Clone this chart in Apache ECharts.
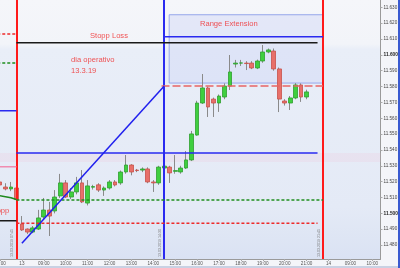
<!DOCTYPE html>
<html><head><meta charset="utf-8">
<script src="https://cdn.jsdelivr.net/npm/echarts@6/dist/echarts.min.js"></script>
<style>html,body{margin:0;padding:0;background:#f4f5f9;overflow:hidden}#c{width:400px;height:268px}</style>
</head><body><div id="c"></div>
<script>
// 15-minute slots; 0 = 13.3.19 08:00
const slots = [-4,-3,-2,-1,0,1,2,3,4,5,6,7,8,9,10,11,12,13,14,15,16,17,18,19,20,21,22,23,24,25,26,27,28,29,30,31,32,33,34,35,36,37,38,39,40,41,42,43,44,45,46,47,48,49,50,51,52];
const opens = [11519.8,11516.6,11515.4,11516.0,11493.3,11490.1,11488.2,11490.1,11497.7,11502.1,11501.5,11511.0,11519.2,11510.3,11513.5,11519.2,11506.5,11516.5,11518.0,11514.7,11516.0,11519.8,11519.2,11526.1,11530.5,11527.3,11527.3,11528.0,11519.8,11519.2,11528.6,11529.2,11526.5,11526.1,11528.6,11533.7,11549.4,11569.6,11579.1,11572.1,11569.6,11573.4,11580.3,11594.2,11594.8,11594.8,11594.8,11591.7,11596.1,11601.8,11602.4,11591.1,11570.9,11569.6,11572.8,11581.0,11573.4];
const closes = [11517.9,11515.4,11516.6,11508.7,11489.5,11488.2,11490.8,11497.1,11502.1,11498.3,11510.3,11519.2,11510.3,11513.5,11519.2,11507.2,11517.3,11516.9,11514.7,11516.0,11519.8,11517.9,11526.1,11530.5,11526.1,11527.0,11528.0,11519.8,11519.2,11529.2,11529.8,11525.5,11527.0,11528.6,11533.7,11550.1,11569.6,11579.1,11567.1,11569.6,11574.0,11580.3,11589.2,11594.8,11594.9,11594.5,11591.7,11596.1,11601.8,11603.1,11591.1,11572.1,11569.6,11572.8,11581.0,11573.4,11576.6];
const lows = [11516,11514.5,11514,11508,11488.9,11486.9,11487.5,11489.5,11496,11485.7,11500,11509.7,11509.7,11509,11512,11506.5,11505,11515,11513.5,11511,11515,11517,11518,11525,11524,11526,11526,11519,11513.5,11518,11528,11519.2,11525,11525,11528,11533,11549,11569,11560.8,11560.8,11564,11572,11577.8,11592,11593,11590.4,11591,11591,11595,11601,11590,11563.9,11568,11565.2,11572,11570.3,11572];
const highs = [11522,11519,11519.8,11517,11498.3,11490.5,11492.0,11502.2,11509.7,11507.2,11514.7,11524.9,11521.0,11516,11523,11527.3,11521,11518,11519,11517,11521,11521,11527,11536.8,11531,11528,11529,11529,11521,11530,11531,11530,11536.8,11530,11539.3,11552.0,11571,11587.9,11580,11573,11575,11582,11599.9,11596.8,11596.8,11596,11596,11597,11606.2,11604,11604,11592,11572,11574,11582.2,11582,11578];

// axis ticks
const yTickVals = [11480,11490,11500,11510,11520,11530,11540,11550,11560,11570,11580,11590,11600,11610,11620,11630];
const xTickVals = [-4,0,4,8,12,16,20,24,28,32,36,40,44,48,52,56,60,64];
const xTickLabels = ['21:00','13','09:00','10:00','11:00','12:00','13:00','14:00','15:00','16:00','17:00','18:00','19:00','20:00','21:00','14','09:00','10:00'];

// drawn levels (slot, price)
const dayBounds = [-1, 55];
const sessionStart = 26;
const stopLossLine = [[-1,11607.7],[54,11607.7]];
const rangeTopLine = [[26,11611.4],[55,11611.4]];
const rangeMidLine = [[25.5,11580.3],[55,11580.3]];
const breakoutLine = [[-1,11538.1],[54,11538.1]];
const greenLevel = [[-1,11508.4],[55,11508.4]];
const redLevel = [[-1,11493.7],[54,11493.7]];
const trendLine = [[0,11481.1],[26,11580.3]];
const rangeBox = [[26.9,11625.3],[55,11582.2]];
const pinkBand = [11532.4, 11538.1];
const prevRed = [[-4.5,11613.1],[-1,11613.1]];
const prevGreen = [[-4.5,11594.9],[-1,11594.9]];
const prevBlue = [[-4.5,11564.8],[-1,11564.8]];
const prevPink = [[-4.5,11529.4],[-1,11529.4]];
const prevBlack = [[-4.5,11495.4],[-1,11495.4]];
const prevCurve = [[-4.5,11511.3],[-3,11510.5],[-2,11509.8],[-1,11508.7]];
const lastPrice = 11576.6;
const lastPriceText = '11.576.62';
const timerText = '22s';

// annotations
const notes = [
  {value:[15.9,11612.2], text:'Stopp Loss', pos:'inside'},
  {value:[37.8,11619.3], text:'Range Extension', pos:'inside'},
  {value:[8.97,11596.8], text:'dia operativo', pos:'right'},
  {value:[8.97,11590.1], text:'13.3.19', pos:'right'},
  {value:[-2.3,11501.5], text:'Stopp', pos:'left'}
];
const vLabels = ['13.03.2019 07:45','13.03.2019 14:30','13.03.2019 21:45'];

const ohlc = slots.map((s,i)=>[s, opens[i], closes[i], lows[i], highs[i]]);
const bodies = slots.map((s,i)=>[s, opens[i], closes[i], Math.min(opens[i],closes[i]), Math.max(opens[i],closes[i])]);

const chart = echarts.init(document.getElementById('c'), null, {renderer:'canvas'});
const F = 'Liberation Sans, Arial, sans-serif';
function seg(data, color, width, type, z){
  return {type:'line', data, symbol:'none', silent:true, z:z||5, animation:false,
    lineStyle:{color, width, type: type||'solid'}};
}
chart.setOption({
  animation:false,
  backgroundColor:'#f4f5f9',
  grid:{left:0, right:19.5, top:0, bottom:9, show:true, borderWidth:0, containLabel:false, outerBoundsMode:'none',
    backgroundColor:{type:'linear',x:0,y:0,x2:0,y2:1,colorStops:[
      {offset:0,color:'#f5f6fa'},{offset:0.17,color:'#f2f4f9'},{offset:0.19,color:'#e9eef8'},
      {offset:0.8,color:'#e4eaf6'},{offset:1,color:'#dae2f3'}]}},
  xAxis:{type:'value', min:-4, max:65.5,
    axisLine:{show:true, onZero:false, lineStyle:{color:'#9a9a9a', width:1}},
    splitLine:{show:false},
    axisTick:{show:true, customValues:xTickVals, length:2, lineStyle:{color:'#aaa'}},
    axisLabel:{customValues:xTickVals, fontSize:4.6, color:'#555', margin:2, fontFamily:F,
      formatter:v=>{const k=xTickVals.indexOf(v); return k>=0?xTickLabels[k]:'';}}},
  yAxis:{type:'value', position:'right', min:11471.2, max:11634.6,
    splitLine:{show:false},
    axisLine:{show:true, onZero:false, lineStyle:{color:'#9a9a9a', width:1}},
    axisTick:{show:true, customValues:yTickVals, length:2, lineStyle:{color:'#aaa'}},
    axisLabel:{customValues:yTickVals, fontSize:4.6, color:'#444', margin:3, fontFamily:F,
      formatter:v=>{const t=(v/1000).toFixed(3); return (Math.round(v)%100===0)?'{b|'+t+'}':t;},
      rich:{b:{fontWeight:'bold', fontSize:4.8, color:'#222', fontFamily:F}}}},
  series:[
    {type:'line', data:[], z:1, silent:true,
      markArea:{silent:true, data:[
        [{yAxis:pinkBand[0], itemStyle:{color:'rgba(240,200,218,0.25)'}},{yAxis:pinkBand[1]}],
        [{coord:rangeBox[0], itemStyle:{color:'rgba(208,216,246,0.45)', borderColor:'#97a6ea', borderWidth:1}},{coord:rangeBox[1]}]
      ]}},
    {type:'candlestick', data:ohlc, encode:{x:0,y:[1,2,3,4]}, barWidth:1, z:3, silent:true,
      itemStyle:{color:'#8a8a8a', color0:'#8a8a8a', borderColor:'#8a8a8a', borderColor0:'#8a8a8a', borderWidth:1},
      markLine:{symbol:'none', silent:true, animation:false,
        data:[
          {xAxis:dayBounds[0], lineStyle:{color:'#ff1a1a', width:2, type:'solid'}, label:{show:true, formatter:vLabels[0], position:'insideStartTop', fontSize:3.6, color:'#777', distance:2}},
          {xAxis:sessionStart, lineStyle:{color:'#2a2af0', width:2, type:'solid'}, label:{show:true, formatter:vLabels[1], position:'insideStartTop', fontSize:3.6, color:'#777', distance:2}},
          {xAxis:dayBounds[1], lineStyle:{color:'#ff1a1a', width:2, type:'solid'}, label:{show:true, formatter:vLabels[2], position:'insideStartTop', fontSize:3.6, color:'#777', distance:2}},
          {yAxis:lastPrice, lineStyle:{width:0, opacity:0}, label:{show:true, position:'end', distance:2, formatter:lastPriceText, backgroundColor:'#efc81c', color:'#333', fontSize:4.4, padding:[1,1,0,1], fontFamily:F}},
          {yAxis:lastPrice, lineStyle:{width:0, opacity:0}, label:{show:true, position:'end', distance:2, offset:[0,5], formatter:timerText, backgroundColor:'#55cc55', color:'#222', fontSize:4.2, padding:[0.5,1,0,1], fontFamily:F}}
        ]}},
    {type:'candlestick', data:bodies, encode:{x:0,y:[1,2,3,4]}, barWidth:4.2, z:4, silent:true,
      itemStyle:{color:'#3fcf3f', color0:'#e8706a', borderColor:'#2f9f2f', borderColor0:'#c8504a', borderWidth:0.8}},
    seg(stopLossLine,'#1a1a1a',1.5),
    seg(rangeTopLine,'#2a2af0',1.5),
    seg(rangeMidLine,'#e86464',1.5,[8,3]),
    seg(breakoutLine,'#2a2af0',1.5),
    seg(greenLevel,'#1f8f1f',1.5,[3,2]),
    seg(redLevel,'#ee2a2a',1.5,[3,2]),
    seg(trendLine,'#2020ee',1.5),
    seg(prevRed,'#ee2a2a',1.5,[3,2]),
    seg(prevGreen,'#1f8f1f',1.5,[3,2]),
    seg(prevBlue,'#2a2af0',1.5),
    seg(prevPink,'#f08cb0',1.5),
    seg(prevBlack,'#1a1a1a',1.5),
    seg(prevCurve,'#1f8a1f',1.5),
    {type:'scatter', symbolSize:0, z:6, silent:true,
      data:notes.map(n=>({value:n.value, label:{show:true, formatter:n.text, position:n.pos, distance:0}})),
      label:{color:'#f02828', fontSize:7.6, fontFamily:F}}
  ],
  graphic:[
    {type:'rect', shape:{x:398, y:0, width:2, height:268}, style:{fill:'#3a5ad0'}, silent:true},
    {type:'rect', shape:{x:0, y:266, width:398, height:2}, style:{fill:'#c9d1e3'}, silent:true}
  ]
});
</script></body></html>
